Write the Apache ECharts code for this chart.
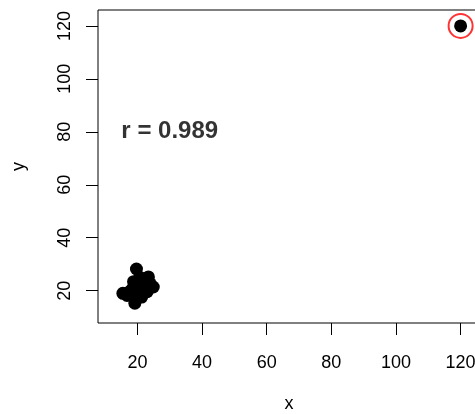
<!DOCTYPE html>
<html>
<head>
<meta charset="utf-8">
<script src="https://cdn.jsdelivr.net/npm/echarts@6/dist/echarts.min.js"></script>
<style>
  html, body { margin: 0; padding: 0; background: #fff; }
  #chart { width: 475px; height: 414px; }
</style>
</head>
<body>
<div id="chart"></div>
<script>
// Observations: a tight cluster near (20, 20) plus one outlier at (120, 120)
var xValues = [19.7, 19.2, 15.5, 24.9, 23.4, 22.2, 20.5, 18.3, 17.2, 21.5, 19.5, 22.8, 20.8, 18.8, 24.0, 20.0, 16.8, 21.3, 19.5, 23.0, 120];
var yValues = [28.2, 15.3, 19.0, 21.4, 25.2, 23.5, 22.0, 20.5, 19.3, 19.0, 18.0, 21.0, 25.0, 23.4, 22.6, 20.0, 18.2, 17.6, 16.8, 19.6, 120];

// The highlighted (influential) point
var outlier = [120, 120];

// Annotation
var corrText = 'r = 0.989';
var corrPos = [30, 80];

// Axis ticks
var xTicks = [20, 40, 60, 80, 100, 120];
var yTicks = [20, 40, 60, 80, 100, 120];
var axisRange = [7.8, 126];

var points = xValues.map(function (x, i) { return [x, yValues[i]]; });

var FONT = 'Liberation Sans, Arial, sans-serif';

var chart = echarts.init(document.getElementById('chart'), null, { renderer: 'canvas' });

chart.setOption({
  animation: false,
  backgroundColor: '#fff',
  grid: {
    left: 98, top: 10, width: 382, height: 313,
    outerBoundsMode: 'none',
    containLabel: false,
    show: true, borderColor: '#000', borderWidth: 1, backgroundColor: 'transparent'
  },
  xAxis: {
    type: 'value',
    min: axisRange[0], max: axisRange[1],
    name: 'x', nameLocation: 'middle', nameGap: 72,
    nameTextStyle: { color: '#000', fontFamily: FONT, fontSize: 18 },
    axisLine: { show: false },
    splitLine: { show: false },
    axisTick: { show: true, length: 12, customValues: xTicks, lineStyle: { color: '#000', width: 1 } },
    axisLabel: { customValues: xTicks, margin: 31, color: '#000', fontFamily: FONT, fontSize: 18 }
  },
  yAxis: {
    type: 'value',
    min: axisRange[0], max: axisRange[1],
    name: 'y', nameLocation: 'middle', nameGap: 70, nameRotate: 90,
    nameTextStyle: { color: '#000', fontFamily: FONT, fontSize: 18 },
    axisLine: { show: false },
    splitLine: { show: false },
    axisTick: { show: true, length: 12, customValues: yTicks, lineStyle: { color: '#000', width: 1 } },
    axisLabel: { customValues: yTicks, rotate: 90, margin: 24, color: '#000', fontFamily: FONT, fontSize: 18 }
  },
  series: [
    {
      type: 'scatter',
      data: points,
      symbol: 'circle',
      symbolSize: 13,
      itemStyle: { color: '#000', opacity: 1 },
      silent: true
    },
    {
      type: 'scatter',
      data: [outlier],
      symbol: 'circle',
      symbolSize: 24,
      itemStyle: { color: 'transparent', borderColor: '#ff0000', borderWidth: 2 },
      silent: true
    },
    {
      type: 'scatter',
      data: [corrPos],
      symbolSize: 0,
      itemStyle: { color: 'transparent' },
      label: {
        show: true, position: 'inside', formatter: corrText,
        color: '#000', fontFamily: FONT, fontWeight: 'bold', fontSize: 24
      },
      silent: true
    }
  ]
});
</script>
</body>
</html>
